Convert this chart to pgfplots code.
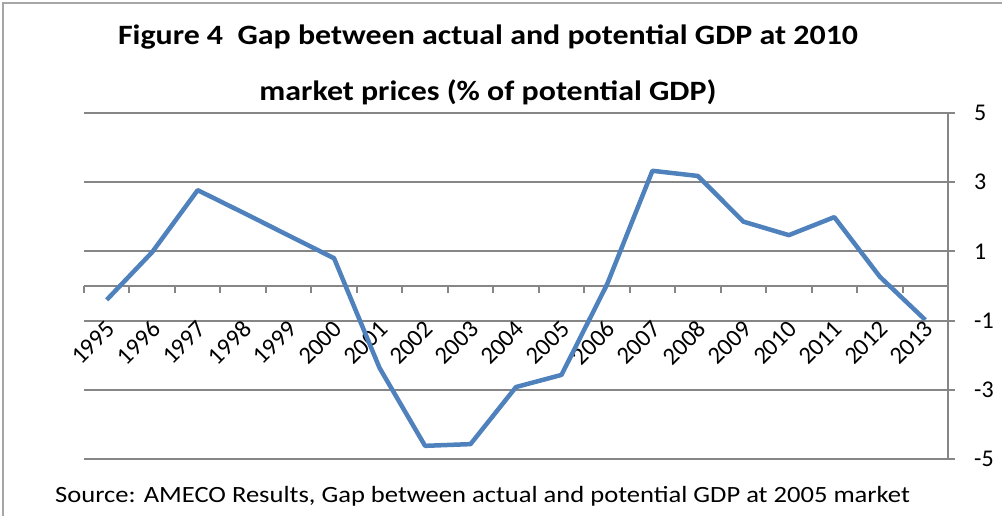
\documentclass[border=0pt]{standalone}
\usepackage{fontspec}
\setmainfont{Carlito}
\usepackage{pgfplots}
\pgfplotsset{compat=1.18}
\definecolor{xlBlue}{HTML}{4F81BD}
\definecolor{gridGray}{HTML}{868686}
\definecolor{frameGray}{HTML}{A6A6A6}

\begin{document}
\begin{tikzpicture}[x=1pt,y=1pt]
  \path[use as bounding box] (0,0) rectangle (1002,516);
  \draw[frameGray, line width=1.5pt] (3,0) -- (3,513) -- (1002,513);

  \node[font=\bfseries\fontsize{28}{32}\selectfont] at (488,479)
    {\scalebox{1.14}[1]{Figure 4\ \ Gap between actual and potential GDP at 2010}};
  \node[font=\bfseries\fontsize{28}{32}\selectfont] at (488,424)
    {\scalebox{1.14}[1]{market prices (\% of potential GDP)}};
  \node[anchor=base west, font=\fontsize{23.3}{28}\selectfont, inner sep=0pt] at (55,13)
    {\scalebox{1.14}[1]{Source: AMECO Results, Gap between actual and potential GDP at 2005 market}};

  \begin{axis}[
      at={(84pt,57pt)}, anchor=south west,
      scale only axis,
      width=864pt, height=346pt,
      xmin=-0.5, xmax=18.5,
      ymin=-5, ymax=5,
      axis x line*=middle,
      axis y line*=right,
      axis line style={gridGray, line width=2pt, -},
      xtick={0,...,18},
      % categories 1995..2013 at positions 0..18
      xticklabel={\pgfmathparse{int(1995+\tick)}\pgfmathresult},
      minor xtick={-0.5,0.5,...,18.5},
      x tick style={draw=none},
      minor x tick style={gridGray, line width=2pt, draw=gridGray},
      minor tick length=7pt,
      major tick length=7pt,
      tick align=outside,
      ytick={-5,-3,-1,1,3,5},
      yticklabel={\pgfmathparse{int(\tick)}\pgfmathresult},
      y tick style={gridGray, line width=2pt},
      ymajorgrids,
      grid style={gridGray, line width=2pt},
      xticklabel style={xshift=4pt, yshift=-32pt, rotate=45, anchor=east,
        inner sep=0pt, font=\fontsize{24.5}{26}\selectfont},
      yticklabel style={font=\fontsize{24}{26}\selectfont, anchor=west,
        inner sep=0pt, xshift=19pt},
      clip=false,
    ]
    \addplot[xlBlue, line width=4.5pt, line join=round] coordinates {
      (0,-0.40) (1,0.98) (2,2.77) (3,2.12) (4,1.46) (5,0.80)
      (6,-2.37) (7,-4.62) (8,-4.57) (9,-2.92) (10,-2.57) (11,0.04)
      (12,3.33) (13,3.18) (14,1.86) (15,1.47) (16,1.99) (17,0.27) (18,-0.98)
    };
  \end{axis}
\end{tikzpicture}
\end{document}
